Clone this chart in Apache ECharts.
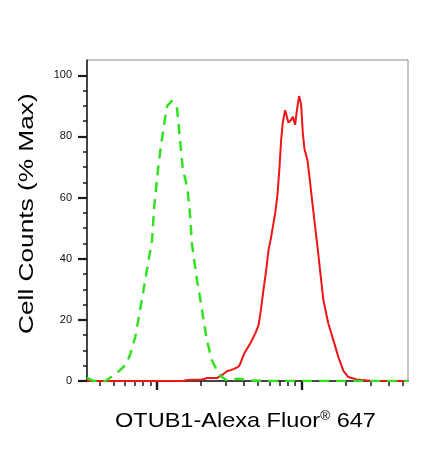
<!DOCTYPE html>
<html>
<head>
<meta charset="utf-8">
<script src="https://cdn.jsdelivr.net/npm/echarts@6/dist/echarts.min.js"></script>
<style>
html,body{margin:0;padding:0;background:#fff;}
#chart{width:433px;height:458px;}
</style>
</head>
<body>
<div id="chart"></div>
<script>
// x = log10 of Alexa Fluor 647 intensity, y = % of max
var otubX = [2.517, 3.181, 3.209, 3.312, 3.347, 3.416, 3.448, 3.483, 3.524, 3.561, 3.574, 3.602, 3.643, 3.678, 3.701, 3.717, 3.735, 3.754, 3.770, 3.786, 3.795, 3.816, 3.832, 3.846, 3.857, 3.869, 3.885, 3.908, 3.924, 3.938, 3.954, 3.966, 3.981, 3.995, 4.007, 4.018, 4.039, 4.057, 4.076, 4.092, 4.108, 4.126, 4.149, 4.183, 4.218, 4.252, 4.287, 4.321, 4.379, 4.471, 4.733];
var otubY = [0, 0, 0.3, 0.5, 1, 1, 1.9, 3.2, 3.8, 4.6, 5.5, 9, 12.2, 15.5, 18.2, 23, 29.7, 36.2, 42.8, 46.5, 49, 54.8, 61, 70, 78.7, 84.7, 88.6, 84.5, 85.3, 86.4, 83.8, 88.6, 93.2, 90.5, 81, 76, 72.2, 65, 57, 50.4, 44, 36.2, 26.4, 18.8, 13.3, 7.9, 3.3, 1.3, 0.5, 0.1, 0];

var ctrlX = [2.517, 2.563, 2.643, 2.719, 2.788, 2.816, 2.850, 2.873, 2.897, 2.919, 2.942, 2.966, 2.981, 2.993, 3.011, 3.034, 3.057, 3.071, 3.102, 3.126, 3.138, 3.149, 3.166, 3.179, 3.195, 3.211, 3.223, 3.230, 3.241, 3.257, 3.276, 3.299, 3.321, 3.345, 3.379, 3.425, 3.448, 3.478, 3.561, 3.643, 3.781, 4.306, 4.733];
var ctrlY = [1, 0, 0, 2.4, 5.5, 8.8, 14.4, 20.4, 27, 33, 39.5, 46, 57, 62.4, 71, 79, 86.4, 90, 91.6, 90.7, 89.3, 84, 75.5, 69, 66.2, 62.4, 57.5, 53, 45, 39.5, 33, 27, 20, 13.3, 6.8, 2.4, 1.3, 0.3, 0.7, 0.2, 0, 0, 0];

var yMajor = [0, 20, 40, 60, 80, 100];
var yMinor = [5, 10, 15, 25, 30, 35, 45, 50, 55, 65, 70, 75, 85, 90, 95];
var xDecades = [2, 3, 4];
var xMantissa = [2, 3, 4, 5, 6, 7, 8, 9];

var xMin = 2.517, xMax = 4.733;

var xMinor = [];
xDecades.forEach(function (d) {
	xMantissa.forEach(function (m) {
		var v = d + Math.log10(m);
		if (v >= xMin && v <= xMax) xMinor.push(v);
	});
});

function pairs(xs, ys) {
	return xs.map(function (x, i) { return [x, ys[i]]; });
}

var font = "'Liberation Sans', Arial, sans-serif";
var axisColor = '#1a1a1a';

var dom = document.getElementById('chart');
var myChart = echarts.init(dom);
var option = {
	animation: false,
	backgroundColor: '#fff',
	grid: {
		left: 87,
		right: 25,
		top: 60,
		bottom: 77,
		show: true,
		borderColor: '#8a8a8a',
		borderWidth: 1
	},
	xAxis: [
		{
			type: 'value', min: xMin, max: xMax, position: 'bottom',
			axisLine: {show: true, lineStyle: {color: axisColor, width: 1.5}},
			axisTick: {show: true, customValues: xMinor, length: 5, lineStyle: {color: axisColor, width: 1.5}},
			axisLabel: {show: false},
			splitLine: {show: false}
		},
		{
			type: 'value', min: xMin, max: xMax, position: 'bottom',
			axisLine: {show: false},
			axisTick: {show: true, customValues: xDecades, length: 9, lineStyle: {color: axisColor, width: 2.4}},
			axisLabel: {show: false},
			splitLine: {show: false}
		}
	],
	yAxis: [
		{
			type: 'value', min: 0, max: 105, position: 'left',
			axisLine: {show: true, lineStyle: {color: axisColor, width: 1.5}},
			axisTick: {show: true, customValues: yMajor, length: 9, lineStyle: {color: axisColor, width: 2.2}},
			axisLabel: {show: true, customValues: yMajor, margin: 15, fontSize: 11, color: '#111', fontFamily: font},
			splitLine: {show: false}
		},
		{
			type: 'value', min: 0, max: 105, position: 'left',
			axisLine: {show: false},
			axisTick: {show: true, customValues: yMinor, length: 4, lineStyle: {color: axisColor, width: 1.5}},
			axisLabel: {show: false},
			splitLine: {show: false}
		}
	],
	series: [
		{
			name: 'Isotype control',
			type: 'line',
			data: pairs(ctrlX, ctrlY),
			showSymbol: false,
			z: 3,
			lineStyle: {color: '#33e022', width: 2.5, type: [10, 7]}
		},
		{
			name: 'OTUB1',
			type: 'line',
			data: pairs(otubX, otubY),
			showSymbol: false,
			z: 2,
			lineStyle: {color: '#f01414', width: 2}
		}
	],
	graphic: [
		{
			type: 'text',
			x: 115,
			y: 421,
			scaleX: 1.12,
			style: {
				text: '{a|OTUB1-Alexa Fluor}{s|®}{a| 647}',
				align: 'left',
				verticalAlign: 'middle',
				fill: '#000',
				rich: {
					a: {fontSize: 21, fontFamily: font, fill: '#000'},
					s: {fontSize: 12, fontFamily: font, fill: '#000', verticalAlign: 'top'}
				}
			}
		},
		{
			type: 'text',
			x: 27.7,
			y: 334,
			rotation: Math.PI / 2,
			scaleX: 1.25,
			style: {
				text: 'Cell Counts (% Max)',
				align: 'left',
				verticalAlign: 'middle',
				fill: '#000',
				font: '21px ' + font
			}
		}
	]
};
if (option && typeof option === 'object') {
	myChart.setOption(option, true);
}
</script>
</body>
</html>
